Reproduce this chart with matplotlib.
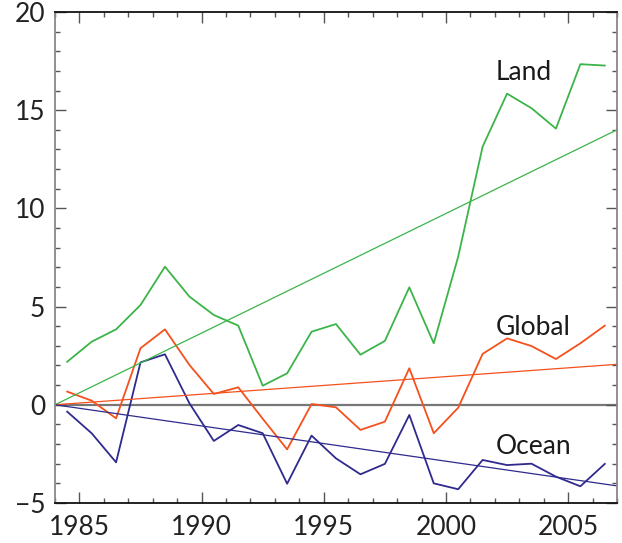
import matplotlib
matplotlib.use("Agg")
import matplotlib.pyplot as plt
from matplotlib.ticker import MultipleLocator, FuncFormatter
import numpy as np

plt.rcParams['font.family'] = ['Lato', 'DejaVu Sans']

years = np.arange(1984.5, 2007.0, 1.0)

land = [2.19, 3.21, 3.84, 5.08, 7.03, 5.51, 4.57, 4.03, 0.97, 1.60, 3.72, 4.11,
        2.55, 3.25, 5.98, 3.13, 7.54, 13.14, 15.84, 15.10, 14.06, 17.34, 17.27]
globl = [0.67, 0.21, -0.69, 2.88, 3.84, 2.03, 0.55, 0.89, -0.71, -2.27, 0.04, -0.13,
         -1.28, -0.86, 1.86, -1.45, -0.15, 2.59, 3.38, 2.99, 2.33, 3.13, 4.03]
ocean = [-0.35, -1.45, -2.93, 2.16, 2.57, 0.08, -1.84, -1.03, -1.45, -4.02, -1.57, -2.73,
         -3.54, -3.01, -0.52, -4.00, -4.30, -2.81, -3.07, -3.00, -3.66, -4.15, -3.01]

# trend lines: start and end values at 1984 / 2007
trend_x = [1984, 2007]
land_trend = [0, 14.0]
global_trend = [0, 2.06]
ocean_trend = [0, -4.13]

c_land = '#3cb44a'
c_global = '#f4511e'
c_ocean = '#2f2a8e'

fig = plt.figure(figsize=(6.22, 5.43), dpi=100)
ax = fig.add_axes([0.0884, 0.0737, 0.9036, 0.9043])

ax.axhline(0, color='#777777', lw=1.6, zorder=1)

ax.plot(years, land, color=c_land, lw=1.3)
ax.plot(years, globl, color=c_global, lw=1.3)
ax.plot(years, ocean, color=c_ocean, lw=1.3)

ax.plot(trend_x, land_trend, color=c_land, lw=0.9)
ax.plot(trend_x, global_trend, color=c_global, lw=0.9)
ax.plot(trend_x, ocean_trend, color=c_ocean, lw=0.9)

txt = dict(fontsize=19, color='#1a1a1a', va='center', ha='left')
ax.text(2002.03, 16.92, 'Land', **txt)
ax.text(2002.03, 3.91, 'Global', **txt)
ax.text(2002.03, -2.10, 'Ocean', **txt)

ax.set_xlim(1984, 2007)
ax.set_ylim(-5, 20)
ax.xaxis.set_major_locator(MultipleLocator(5))
ax.xaxis.set_minor_locator(MultipleLocator(1))
ax.yaxis.set_major_locator(MultipleLocator(5))
ax.yaxis.set_minor_locator(MultipleLocator(1))
ax.yaxis.set_major_formatter(FuncFormatter(
    lambda v, p: ('\u2212%d' % -v) if v < 0 else '%d' % v))

ax.tick_params(which='both', direction='in', top=True, right=True,
               colors='#555555', labelcolor='#222222', labelsize=19)
ax.tick_params(which='major', length=8, width=1)
ax.tick_params(which='minor', length=3.8, width=1)
ax.tick_params(axis='x', pad=9)
ax.tick_params(axis='y', pad=7)

ax.spines['left'].set_color('#888888')
ax.spines['right'].set_color('#888888')
ax.spines['top'].set_color('#111111')
ax.spines['bottom'].set_color('#111111')
for s in ax.spines.values():
    s.set_linewidth(1.3)

fig.savefig('out.png', dpi=100)
